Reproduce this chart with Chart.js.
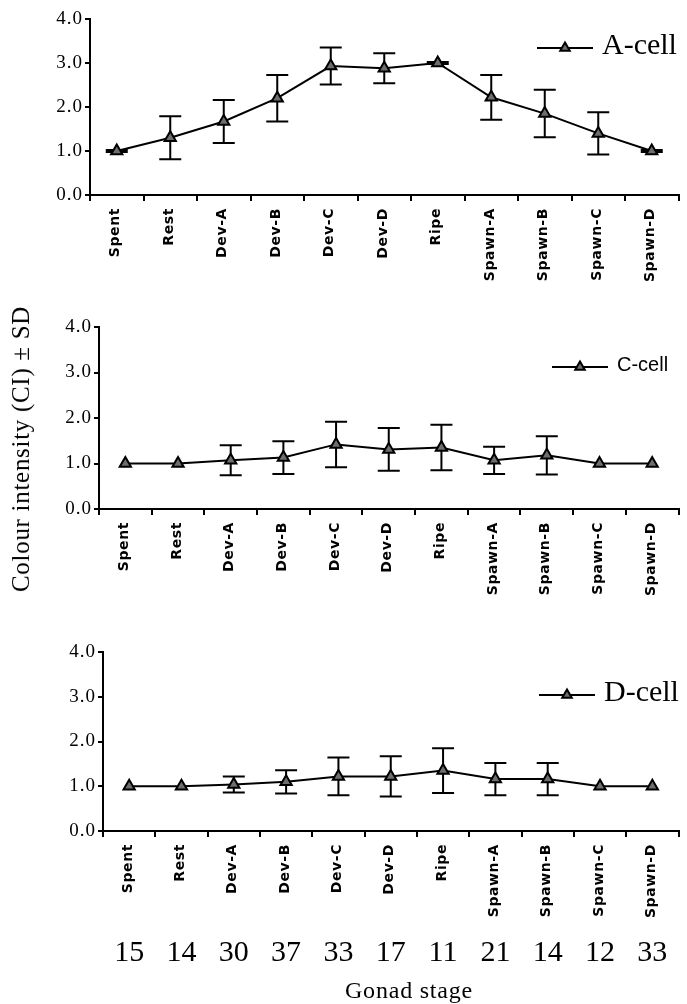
<!DOCTYPE html>
<html>
<head>
<meta charset="utf-8">
<script src="https://cdn.jsdelivr.net/npm/chart.js@4.4.1/dist/chart.umd.min.js"></script>
<style>
  body { margin: 0; background: #fff; }
  #wrap { position: relative; width: 687px; height: 1004px; overflow: hidden; }
  canvas { position: absolute; left: 0; }
  .txt { position: absolute; white-space: nowrap; font-family: "Liberation Serif", serif; color: #000; }
  #ytitle { left: 21px; top: 449px; font-size: 25px; letter-spacing: 0.7px; transform: translate(-50%, -50%) rotate(-90deg); }
  #xtitle { left: 409px; top: 990px; font-size: 24px; letter-spacing: 0.8px; transform: translate(-50%, -50%); }
</style>
</head>
<body>
<div id="wrap">
  <canvas id="chartA" width="687" height="300" style="top:0px"></canvas>
  <canvas id="chartC" width="687" height="320" style="top:300px"></canvas>
  <canvas id="chartD" width="687" height="384" style="top:620px"></canvas>
  <div class="txt" id="ytitle">Colour intensity (CI) ± SD</div>
  <div class="txt" id="xtitle">Gonad stage</div>
</div>
<script>
const stages = ["Spent", "Rest", "Dev-A", "Dev-B", "Dev-C", "Dev-D", "Ripe", "Spawn-A", "Spawn-B", "Spawn-C", "Spawn-D"];

const aCellMean = [1.0, 1.3, 1.67, 2.2, 2.93, 2.88, 3.0, 2.22, 1.85, 1.4, 1.0];
const aCellSD = [0.02, 0.49, 0.49, 0.53, 0.42, 0.34, 0.02, 0.51, 0.54, 0.48, 0.02];

const cCellMean = [1.0, 1.0, 1.07, 1.13, 1.42, 1.31, 1.35, 1.07, 1.18, 1.0, 1.0];
const cCellSD = [0, 0, 0.33, 0.36, 0.5, 0.47, 0.5, 0.3, 0.42, 0, 0];

const dCellMean = [1.0, 1.0, 1.04, 1.1, 1.22, 1.22, 1.35, 1.16, 1.16, 1.0, 1.0];
const dCellSD = [0, 0, 0.18, 0.26, 0.42, 0.45, 0.5, 0.36, 0.36, 0, 0];

const sampleSizes = [15, 14, 30, 37, 33, 17, 11, 21, 14, 12, 33];
const yTicks = [0, 1, 2, 3, 4];

function triangle(ctx, x, y, r) {
  ctx.beginPath();
  for (let k = 0; k < 3; k++) {
    const a = -Math.PI / 2 + k * 2 * Math.PI / 3;
    const px = x + Math.cos(a) * r, py = y + Math.sin(a) * r;
    if (k == 0) ctx.moveTo(px, py); else ctx.lineTo(px, py);
  }
  ctx.closePath();
  ctx.fill();
  ctx.stroke();
}

// error bars, x labels, legend, sample sizes
const extras = {
  id: "extras",
  beforeDraw(chart) {
    chart.ctx.letterSpacing = "1px";
  },
  beforeDatasetsDraw(chart, args, opts) {
    const ctx = chart.ctx, x = chart.scales.x, y = chart.scales.y;
    ctx.save();
    ctx.strokeStyle = "#000";
    ctx.lineWidth = 2;
    opts.sd.forEach((s, i) => {
      if (!s) return;
      const m = chart.data.datasets[0].data[i];
      const px = x.getPixelForValue(i);
      const top = y.getPixelForValue(m + s), bot = y.getPixelForValue(m - s);
      ctx.beginPath();
      ctx.moveTo(px, top); ctx.lineTo(px, bot);
      ctx.moveTo(px - 11, top); ctx.lineTo(px + 11, top);
      ctx.moveTo(px - 11, bot); ctx.lineTo(px + 11, bot);
      ctx.stroke();
    });
    ctx.restore();
  },
  afterDraw(chart, args, opts) {
    const ctx = chart.ctx, x = chart.scales.x, area = chart.chartArea;
    ctx.save();
    // rotated stage labels
    ctx.fillStyle = "#000";
    ctx.font = "bold 14px 'DejaVu Sans'";
    ctx.letterSpacing = "0.6px";
    ctx.textAlign = "right";
    ctx.textBaseline = "middle";
    stages.forEach((s, i) => {
      ctx.save();
      ctx.translate(x.getPixelForValue(i) - 1, area.bottom + 13);
      ctx.rotate(-Math.PI / 2);
      ctx.fillText(s, 0, 0);
      ctx.restore();
    });
    // legend
    const lg = opts.legend;
    ctx.letterSpacing = "0px";
    ctx.strokeStyle = "#000";
    ctx.lineWidth = 2;
    ctx.beginPath();
    ctx.moveTo(lg.x, lg.y); ctx.lineTo(lg.x + 56, lg.y);
    ctx.stroke();
    ctx.fillStyle = "#6e6e6e";
    triangle(ctx, lg.x + 28, lg.y, 5.5);
    ctx.fillStyle = "#000";
    ctx.font = lg.font;
    ctx.textAlign = "left";
    ctx.textBaseline = "middle";
    ctx.fillText(lg.label, lg.x + 65, lg.y - 2);
    // sample sizes under the last panel
    if (opts.counts) {
      ctx.font = "30px 'Liberation Serif'";
      ctx.textAlign = "center";
      opts.counts.forEach((n, i) => {
        ctx.fillText(String(n), x.getPixelForValue(i), opts.countsY);
      });
    }
    ctx.restore();
  }
};

function makeChart(id, label, mean, sd, box, legend, counts) {
  return new Chart(document.getElementById(id), {
    type: "line",
    data: {
      labels: stages,
      datasets: [{
        label: label,
        data: mean,
        borderColor: "#000",
        borderWidth: 2,
        tension: 0,
        pointStyle: "triangle",
        pointRadius: 6.5,
        pointBackgroundColor: "#6e6e6e",
        pointBorderColor: "#000",
        pointBorderWidth: 2,
      }],
    },
    options: {
      responsive: false,
      animation: false,
      devicePixelRatio: 1,
      layout: { padding: { top: box.top, right: box.right, left: 0, bottom: 0 } },
      plugins: {
        legend: { display: false },
        tooltip: { enabled: false },
        extras: { sd: sd, legend: legend, counts: counts, countsY: box.countsY },
      },
      scales: {
        x: {
          type: "category",
          offset: true,
          afterFit: (s) => { s.height = box.xh; },
          grid: { display: true, offset: true, drawOnChartArea: false, drawTicks: true, tickLength: 6, color: "#000", lineWidth: 2 },
          border: { display: true, color: "#000", width: 2 },
          ticks: { display: false },
        },
        y: {
          min: 0,
          max: 4,
          afterFit: (s) => { s.width = box.yw; },
          afterBuildTicks: (s) => { s.ticks = yTicks.map(v => ({ value: v })); },
          grid: { display: true, drawOnChartArea: false, drawTicks: true, tickLength: 5, color: "#000", lineWidth: 2 },
          border: { display: true, color: "#000", width: 2 },
          ticks: {
            color: "#000",
            padding: 2,
            font: { family: "Liberation Serif", size: 19 },
            callback: (v) => Number(v).toFixed(1),
          },
        },
      },
    },
    plugins: [extras],
  });
}

makeChart("chartA", "A-cell", aCellMean, aCellSD,
  { top: 19, right: 6, xh: 105, yw: 90 },
  { x: 537, y: 48, label: "A-cell", font: "30px 'Liberation Serif'" });

makeChart("chartC", "C-cell", cCellMean, cCellSD,
  { top: 27, right: 3, xh: 111, yw: 99 },
  { x: 552, y: 67, label: "C-cell", font: "20px 'Liberation Sans'" });

makeChart("chartD", "D-cell", dCellMean, dCellSD,
  { top: 32, right: 1, xh: 173, yw: 103, countsY: 333 },
  { x: 539, y: 75, label: "D-cell", font: "30px 'Liberation Serif'" },
  sampleSizes);
</script>
</body>
</html>
